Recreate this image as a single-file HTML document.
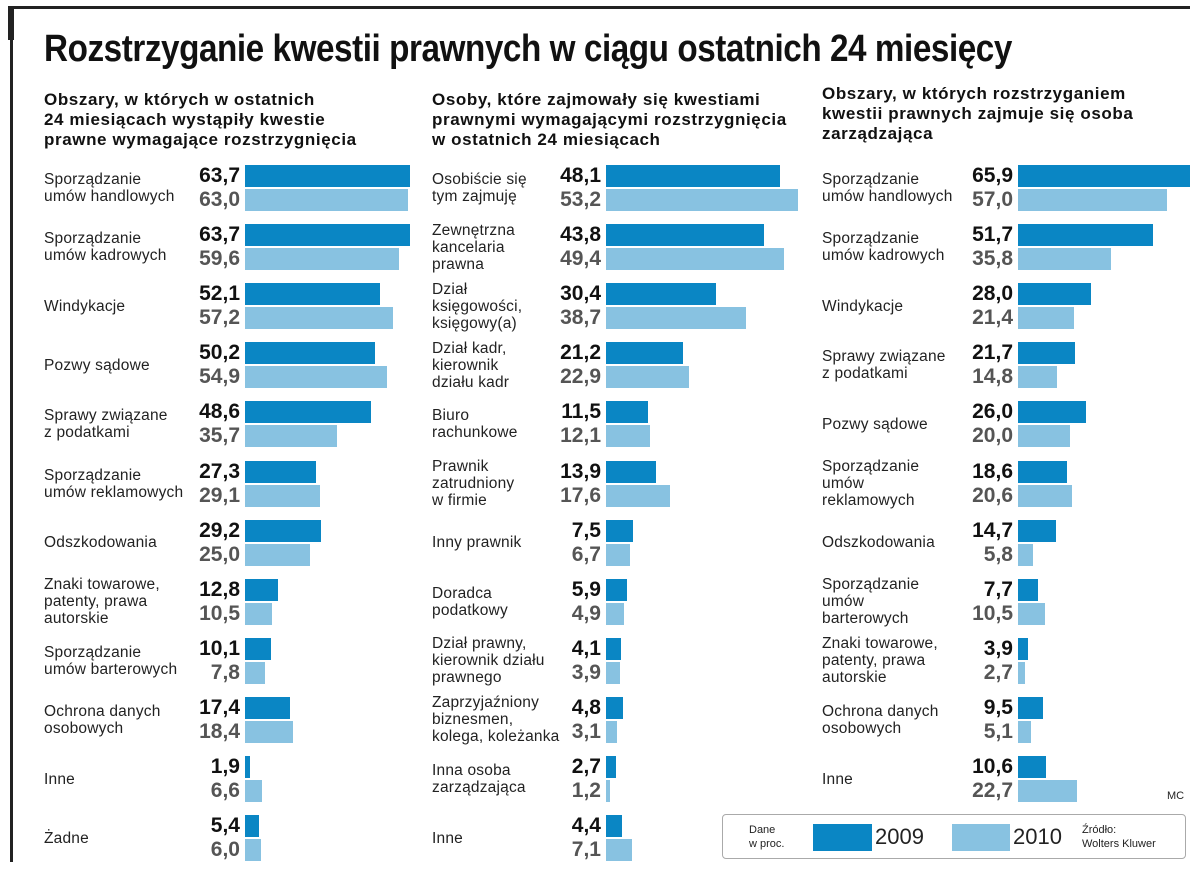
<!DOCTYPE html>
<html><head><meta charset="utf-8">
<style>
body{margin:0;width:1200px;height:873px;background:#fff;position:relative;overflow:hidden;font-family:"Liberation Sans",sans-serif;}
.abs{position:absolute;}
.title{left:44px;top:28px;font-family:"Liberation Sans Narrow","Liberation Sans",sans-serif;font-size:38px;font-weight:bold;letter-spacing:-0.5px;color:#111;white-space:nowrap;transform:scaleX(0.875);transform-origin:left;}
.sub{font-size:17px;letter-spacing:0.6px;font-weight:bold;line-height:20px;color:#111;white-space:nowrap;}
.lab{font-size:15.5px;letter-spacing:0.2px;line-height:17px;color:#222;white-space:nowrap;}
.v1{font-size:21px;font-weight:bold;color:#111;text-align:right;width:74px;line-height:22px;}
.v2{font-size:21px;font-weight:bold;color:#555;text-align:right;width:74px;line-height:22px;}
.b1{background:#0a86c4;height:22px;}
.b2{background:#88c2e1;height:22px;}
</style></head><body>
<div class="abs" style="left:10px;top:6px;width:1180px;height:3px;background:#222"></div>
<div class="abs" style="left:8px;top:6px;width:6px;height:34px;background:#222"></div>
<div class="abs" style="left:10px;top:6px;width:3px;height:856px;background:#222"></div>
<div class="abs title">Rozstrzyganie kwestii prawnych w ciągu ostatnich 24 miesięcy</div>
<div class="abs sub" style="left:44px;top:90px">Obszary, w których w ostatnich<br>24 miesiącach wystąpiły kwestie<br>prawne wymagające rozstrzygnięcia</div>
<div class="abs sub" style="left:432px;top:90px">Osoby, które zajmowały się kwestiami<br>prawnymi wymagającymi rozstrzygnięcia<br>w ostatnich 24 miesiącach</div>
<div class="abs sub" style="left:822px;top:84px">Obszary, w których rozstrzyganiem<br>kwestii prawnych zajmuje się osoba<br>zarządzająca</div>
<div class="abs" style="left:1167px;top:790px;font-size:11px;color:#222">MC</div>
<div class="abs" style="left:722px;top:814px;width:464px;height:45px;border:1px solid #aaa;border-radius:4px;box-sizing:border-box"></div>
<div class="abs" style="left:749px;top:823px;font-size:11px;line-height:14px;color:#222">Dane<br>w proc.</div>
<div class="abs" style="left:813px;top:824px;width:59px;height:27px;background:#0a86c4"></div>
<div class="abs" style="left:875px;top:824px;font-size:22px;color:#222">2009</div>
<div class="abs" style="left:952px;top:824px;width:58px;height:27px;background:#88c2e1"></div>
<div class="abs" style="left:1013px;top:824px;font-size:22px;color:#222">2010</div>
<div class="abs" style="left:1082px;top:823px;font-size:11px;line-height:14px;color:#222">Źródło:<br>Wolters Kluwer</div>
<script>
const leftCats=["Sporządzanie\numów handlowych","Sporządzanie\numów kadrowych","Windykacje","Pozwy sądowe","Sprawy związane\nz podatkami","Sporządzanie\numów reklamowych","Odszkodowania","Znaki towarowe,\npatenty, prawa\nautorskie","Sporządzanie\numów barterowych","Ochrona danych\nosobowych","Inne","Żadne"];
const left2009=[63.7,63.7,52.1,50.2,48.6,27.3,29.2,12.8,10.1,17.4,1.9,5.4];
const left2010=[63.0,59.6,57.2,54.9,35.7,29.1,25.0,10.5,7.8,18.4,6.6,6.0];
const midCats=["Osobiście się\ntym zajmuję","Zewnętrzna\nkancelaria\nprawna","Dział\nksięgowości,\nksięgowy(a)","Dział kadr,\nkierownik\ndziału kadr","Biuro\nrachunkowe","Prawnik\nzatrudniony\nw firmie","Inny prawnik","Doradca\npodatkowy","Dział prawny,\nkierownik działu\nprawnego","Zaprzyjaźniony\nbiznesmen,\nkolega, koleżanka","Inna osoba\nzarządzająca","Inne"];
const mid2009=[48.1,43.8,30.4,21.2,11.5,13.9,7.5,5.9,4.1,4.8,2.7,4.4];
const mid2010=[53.2,49.4,38.7,22.9,12.1,17.6,6.7,4.9,3.9,3.1,1.2,7.1];
const rightCats=["Sporządzanie\numów handlowych","Sporządzanie\numów kadrowych","Windykacje","Sprawy związane\nz podatkami","Pozwy sądowe","Sporządzanie\numów\nreklamowych","Odszkodowania","Sporządzanie\numów\nbarterowych","Znaki towarowe,\npatenty, prawa\nautorskie","Ochrona danych\nosobowych","Inne"];
const right2009=[65.9,51.7,28.0,21.7,26.0,18.6,14.7,7.7,3.9,9.5,10.6];
const right2010=[57.0,35.8,21.4,14.8,20.0,20.6,5.8,10.5,2.7,5.1,22.7];

const panels=[
 {name:"left",cats:leftCats,a:left2009,b:left2010,labX:44,barX:245,scale:165/63.7},
 {name:"middle",cats:midCats,a:mid2009,b:mid2010,labX:432,barX:606,scale:192/53.2},
 {name:"right",cats:rightCats,a:right2009,b:right2010,labX:822,barX:1018,scale:172/65.9}
];
const y0=165,pitch=59.1;
function fmt(v){return v.toFixed(1).replace('.',',');}
function mk(cls,style,txt){const d=document.createElement('div');d.className='abs '+cls;Object.assign(d.style,style);if(txt!==undefined)d.textContent=txt;document.body.appendChild(d);return d;}
panels.forEach(p=>{
 p.cats.forEach((c,i)=>{
  const y=y0+i*pitch;
  const lines=c.split('\n');
  const l=mk('lab',{left:p.labX+'px',top:(y+23-lines.length*8.5)+'px'});
  l.innerHTML=lines.join('<br>');
  
  
  const b1=mk('b1',{left:p.barX+'px',top:y+'px',width:(p.a[i]*p.scale)+'px'});
  
  
  const b2=mk('b2',{left:p.barX+'px',top:(y+24)+'px',width:(p.b[i]*p.scale)+'px'});
  
  
  const v1=mk('v1',{left:(p.barX-79)+'px',top:y+'px'},fmt(p.a[i]));
  
  
  const v2=mk('v2',{left:(p.barX-79)+'px',top:(y+24)+'px'},fmt(p.b[i]));
  
  
 });
});
</script>
</body></html>
